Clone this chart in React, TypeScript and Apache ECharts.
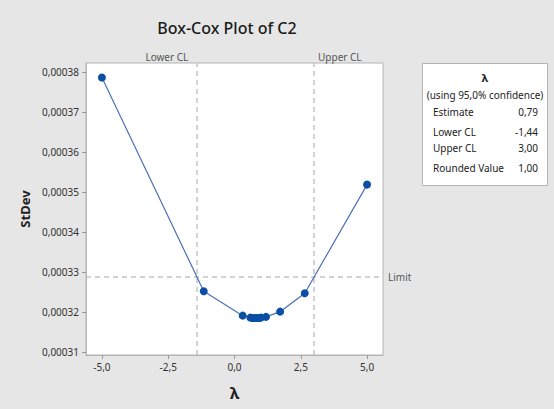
import React, { useEffect, useRef } from "react";
import * as echarts from "echarts";

// Box-Cox evaluation points: lambda vs. pooled standard deviation
const lambdaValues = [-5, -1.16, 0.31, 0.6, 0.68, 0.76, 0.84, 0.92, 1.0, 1.19, 1.72, 2.65, 5];
const stdevValues = [
  0.0003787, 0.0003252, 0.0003191, 0.0003186, 0.0003185, 0.0003185, 0.0003185,
  0.0003185, 0.0003186, 0.0003188, 0.0003201, 0.0003247, 0.0003519,
];

const xTicks = [-5, -2.5, 0, 2.5, 5];
const yTicks = [0.00031, 0.00032, 0.00033, 0.00034, 0.00035, 0.00036, 0.00037, 0.00038];

const lowerCL = -1.44;
const upperCL = 3.0;
const limitValue = 0.0003288;

const statLabels = ["Estimate", "Lower CL", "Upper CL", "Rounded Value"];
const statValues = ["0,79", "-1,44", "3,00", "1,00"];

const X_MIN = -5.6;
const X_MAX = 5.6;

const FONT = "'Noto Sans', 'Open Sans', sans-serif";
const comma = (s: string) => s.replace(".", ",");

const refLineStyle = { color: "#c4c4c4", type: [5, 4], width: 1.5 };
const refLabelStyle = { fontFamily: FONT, fontSize: 10, color: "#555" };

export default function App() {
  const ref = useRef<HTMLDivElement>(null);

  useEffect(() => {
    if (!ref.current) return;
    const chart = echarts.init(ref.current, null, { renderer: "svg" });

    const statRowsY = [111.5, 131.5, 147.5, 167.5];
    const legendTexts: any[] = [];
    statLabels.forEach((lab, i) => {
      legendTexts.push({
        type: "text",
        x: 433,
        y: statRowsY[i],
        style: { text: lab, font: `10px ${FONT}`, fill: "#222", align: "left", verticalAlign: "middle" },
      });
      legendTexts.push({
        type: "text",
        x: 538,
        y: statRowsY[i],
        style: { text: statValues[i], font: `10px ${FONT}`, fill: "#222", align: "right", verticalAlign: "middle" },
      });
    });

    chart.setOption({
      animation: false,
      backgroundColor: "#e6e6e6",
      title: {
        text: "Box-Cox Plot of C2",
        left: 222,
        top: 15,
        textAlign: "center",
        textStyle: { fontFamily: FONT, fontSize: 16, fontWeight: 500, color: "#1a1a1a" },
      },
      grid: {
        left: 86,
        right: 171,
        top: 63,
        bottom: 54,
        show: true,
        backgroundColor: "#ffffff",
        borderColor: "#b4b4b4",
        borderWidth: 1,
      },
      xAxis: {
        type: "value",
        min: X_MIN,
        max: X_MAX,
        name: "λ",
        nameLocation: "middle",
        nameGap: 30,
        nameTextStyle: { fontFamily: FONT, fontSize: 16, fontWeight: "bold", color: "#222" },
        splitLine: { show: false },
        axisLine: { show: true, onZero: false, lineStyle: { color: "#b4b4b4" } },
        axisTick: { show: true, length: 4, customValues: xTicks, lineStyle: { color: "#999" } },
        axisLabel: {
          customValues: xTicks,
          margin: 7,
          fontFamily: FONT,
          fontSize: 10,
          color: "#333",
          formatter: (v: number) => comma(v.toFixed(1)),
        },
      },
      yAxis: {
        type: "value",
        min: 0.00030925,
        max: 0.00038233,
        name: "StDev",
        nameLocation: "middle",
        nameGap: 50,
        nameTextStyle: { fontFamily: FONT, fontSize: 13, fontWeight: "bold", color: "#222" },
        splitLine: { show: false },
        axisLine: { show: true, onZero: false, lineStyle: { color: "#b4b4b4" } },
        axisTick: { show: true, length: 4, customValues: yTicks, lineStyle: { color: "#999" } },
        axisLabel: {
          customValues: yTicks,
          margin: 7,
          fontFamily: FONT,
          fontSize: 10,
          color: "#333",
          formatter: (v: number) => comma(v.toFixed(5)),
        },
      },
      series: [
        {
          type: "line",
          data: lambdaValues.map((l, i) => [l, stdevValues[i]]),
          symbol: "circle",
          symbolSize: 8,
          itemStyle: { color: "#0a4fa3" },
          lineStyle: { color: "#4a70b5", width: 1.2 },
          z: 5,
          markLine: {
            silent: true,
            symbol: "none",
            lineStyle: refLineStyle,
            label: refLabelStyle,
            z: 1,
            data: [
              {
                xAxis: lowerCL,
                label: { formatter: "Lower CL", position: "end", distance: 2, align: "right", offset: [-8, 1] },
              },
              {
                xAxis: upperCL,
                label: { formatter: "Upper CL", position: "end", distance: 2, align: "left", offset: [4, 1] },
              },
              [
                {
                  coord: [X_MIN, limitValue],
                  label: { formatter: "Limit", position: "end", distance: 5 },
                },
                { coord: [X_MAX, limitValue] },
              ],
            ],
          },
        },
      ],
      graphic: [
        {
          type: "rect",
          shape: { x: 422.5, y: 63.5, width: 125, height: 122 },
          style: { fill: "#ffffff", stroke: "#b4b4b4", lineWidth: 1 },
        },
        {
          type: "text",
          x: 485,
          y: 77,
          style: { text: "λ", font: `bold 11px ${FONT}`, fill: "#222", align: "center", verticalAlign: "middle" },
        },
        {
          type: "text",
          x: 485,
          y: 94.5,
          style: {
            text: "(using 95,0% confidence)",
            font: `10px ${FONT}`,
            fill: "#222",
            align: "center",
            verticalAlign: "middle",
          },
        },
        ...legendTexts,
      ],
    });

    return () => chart.dispose();
  }, []);

  return <div ref={ref} style={{ width: 554, height: 409, position: "absolute", left: 0, top: 0 }} />;
}
